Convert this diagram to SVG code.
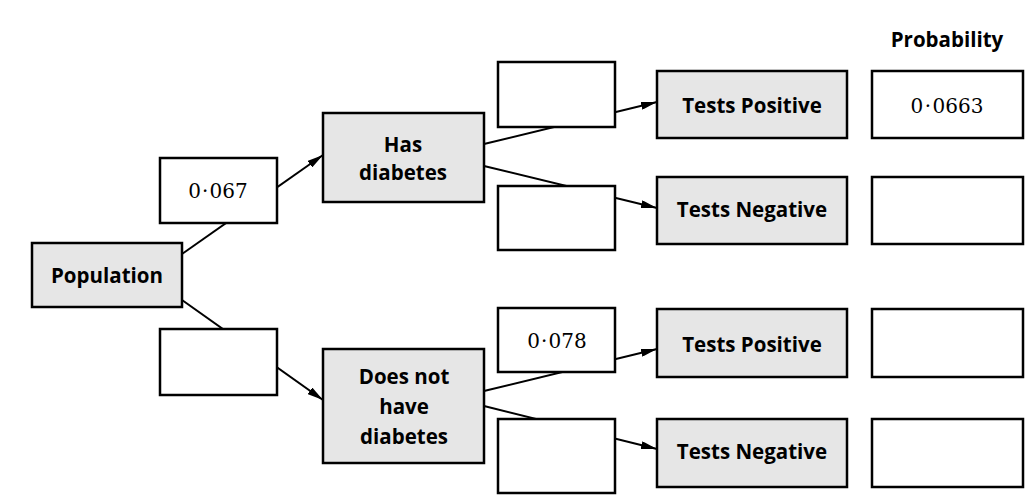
<svg xmlns="http://www.w3.org/2000/svg" width="1030" height="500" viewBox="0 0 1030 500">
<style>
.node{fill:#e6e6e6;stroke:#000;stroke-width:2.5}
.box{fill:#fff;stroke:#000;stroke-width:2.5}
.lbl{font-family:"Open Sans","Liberation Sans",sans-serif;font-weight:bold;font-size:20.5px;text-anchor:middle;fill:#000}
.num{font-family:"DejaVu Serif","Liberation Serif",serif;font-size:20px;text-anchor:middle;fill:#000}
.edge{stroke:#000;stroke-width:2;fill:none;marker-end:url(#arr)}
</style>
<defs>
<marker id="arr" viewBox="0 0 16 8" refX="16" refY="4" markerWidth="16" markerHeight="8" markerUnits="userSpaceOnUse" orient="auto">
<path d="M0,0 L16,4 L0,8 Z" fill="#000"/>
</marker>
</defs>
<text class="lbl" x="947" y="47">Probability</text>
<g id="connectors">
<line class="edge" x1="182" y1="254" x2="323" y2="155"/>
<line class="edge" x1="182" y1="300" x2="323" y2="400"/>
<line class="edge" x1="484" y1="144" x2="657" y2="102"/>
<line class="edge" x1="484" y1="166" x2="657" y2="208"/>
<line class="edge" x1="484" y1="391" x2="657" y2="349"/>
<line class="edge" x1="484" y1="406" x2="657" y2="449"/>
</g>
<g id="population"><rect class="node" x="32" y="243" width="150" height="64"/><text class="lbl" x="107" y="283">Population</text></g>
<g id="p-has"><rect class="box" x="160" y="158" width="117" height="65"/><text class="num" x="218" y="198">0<tspan dx="1">·</tspan><tspan dx="1">067</tspan></text></g>
<g id="p-not"><rect class="box" x="160" y="329" width="117" height="66"/></g>
<g id="has-diabetes"><rect class="node" x="323" y="113" width="161" height="89"/><text class="lbl" x="403" y="152">Has</text><text class="lbl" x="403" y="180">diabetes</text></g>
<g id="not-diabetes"><rect class="node" x="323" y="349" width="161" height="114"/><text class="lbl" x="404" y="384">Does not</text><text class="lbl" x="404" y="414">have</text><text class="lbl" x="404" y="444">diabetes</text></g>
<g id="p-has-pos"><rect class="box" x="498" y="62" width="117" height="65"/></g>
<g id="p-has-neg"><rect class="box" x="498" y="186" width="117" height="64"/></g>
<g id="p-not-pos"><rect class="box" x="498" y="308" width="117" height="64"/><text class="num" x="557" y="348">0<tspan dx="1">·</tspan><tspan dx="1">078</tspan></text></g>
<g id="p-not-neg"><rect class="box" x="498" y="419" width="117" height="74"/></g>
<g id="has-pos"><rect class="node" x="657" y="71" width="190" height="67"/><text class="lbl" x="752" y="113">Tests Positive</text></g>
<g id="has-neg"><rect class="node" x="657" y="177" width="190" height="67"/><text class="lbl" x="752" y="217">Tests Negative</text></g>
<g id="not-pos"><rect class="node" x="657" y="309" width="190" height="68"/><text class="lbl" x="752" y="352">Tests Positive</text></g>
<g id="not-neg"><rect class="node" x="657" y="419" width="190" height="68"/><text class="lbl" x="752" y="459">Tests Negative</text></g>
<g id="prob-1"><rect class="box" x="872" y="71" width="151" height="67"/><text class="num" x="947" y="113">0<tspan dx="1.5">·</tspan><tspan dx="1.5">0663</tspan></text></g>
<g id="prob-2"><rect class="box" x="872" y="177" width="151" height="67"/></g>
<g id="prob-3"><rect class="box" x="872" y="309" width="151" height="68"/></g>
<g id="prob-4"><rect class="box" x="872" y="419" width="151" height="68"/></g>
</svg>
